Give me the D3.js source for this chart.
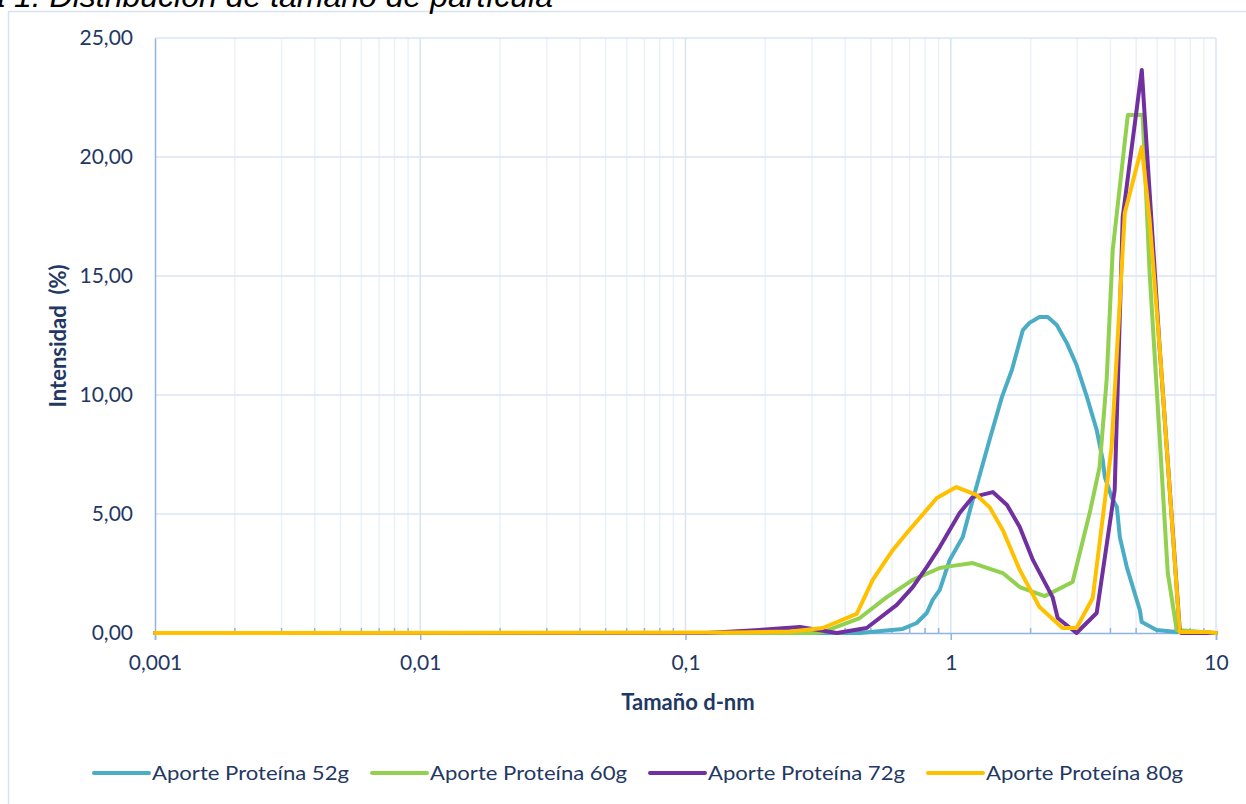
<!DOCTYPE html>
<html>
<head>
<meta charset="utf-8">
<script src="https://cdn.jsdelivr.net/npm/d3@7/dist/d3.min.js"></script>
<style>
  html, body { margin: 0; padding: 0; background: #ffffff; }
  svg { display: block; }
</style>
</head>
<body>
<svg id="chart" width="1246" height="804"></svg>
<script>
// ---------- DATA ----------
const titleText = "Figura 1. Distribución de tamaño de partícula";
const xAxisTitle = "Tamaño d-nm";
const yAxisTitle = "Intensidad\u00A0 (%)";
const xTickValues = [0.001, 0.01, 0.1, 1, 10];
const xTickLabels = ["0,001", "0,01", "0,1", "1", "10"];
const yTickValues = [0, 5, 10, 15, 20, 25];
const yTickLabels = ["0,00", "5,00", "10,00", "15,00", "20,00", "25,00"];
const seriesNames = ["Aporte Proteína 52g", "Aporte Proteína 60g", "Aporte Proteína 72g", "Aporte Proteína 80g"];
const seriesColors = ["#4BACC6", "#92D050", "#7030A0", "#FFC000"];

const size52 = [0.001, 0.454, 0.659, 0.744, 0.812, 0.855, 0.909, 0.991, 1.11, 1.21, 1.40, 1.56, 1.70, 1.87, 1.98, 2.16, 2.32, 2.51, 2.74, 2.98, 3.26, 3.55, 3.74, 3.81, 4.04, 4.23, 4.34, 4.61, 5.16, 5.25, 5.97, 7.11, 10];
const int52  = [0, 0, 0.17, 0.42, 0.84, 1.39, 1.81, 3.07, 4.03, 5.59, 8.11, 9.92, 11.05, 12.73, 13.03, 13.28, 13.28, 12.94, 12.18, 11.26, 9.92, 8.53, 7.27, 6.55, 5.71, 5.29, 4.03, 2.77, 0.97, 0.46, 0.13, 0.04, 0];

const size60 = [0.001, 0.30, 0.329, 0.454, 0.574, 0.719, 0.909, 1.017, 1.21, 1.57, 1.82, 2.26, 2.88, 3.34, 3.64, 3.87, 4.08, 4.65, 5.29, 5.62, 6.14, 6.58, 7.11, 10];
const int60  = [0, 0, 0.04, 0.63, 1.51, 2.23, 2.73, 2.82, 2.94, 2.52, 1.93, 1.55, 2.14, 5.04, 6.97, 10.63, 16.09, 21.76, 21.76, 15.13, 8.11, 2.52, 0.13, 0];

const size72 = [0.001, 0.12, 0.19, 0.27, 0.372, 0.482, 0.626, 0.719, 0.812, 0.909, 1.08, 1.21, 1.44, 1.63, 1.82, 2.04, 2.42, 2.53, 2.98, 3.55, 4.15, 4.45, 5.25, 5.48, 6.14, 7.30, 7.40, 10];
const int72  = [0, 0, 0.13, 0.25, 0, 0.21, 1.18, 1.93, 2.77, 3.61, 5.04, 5.71, 5.92, 5.38, 4.45, 3.07, 1.51, 0.63, 0, 0.84, 6.01, 17.48, 23.66, 20.42, 11.89, 0.13, 0, 0];

const size80 = [0.001, 0.15, 0.25, 0.329, 0.442, 0.508, 0.605, 0.683, 0.886, 1.05, 1.25, 1.40, 1.57, 1.82, 2.16, 2.64, 2.98, 3.43, 4.04, 4.53, 5.25, 5.62, 6.14, 7.30, 9.22, 10];
const int80  = [0, 0.02, 0.06, 0.21, 0.80, 2.23, 3.49, 4.20, 5.67, 6.13, 5.80, 5.29, 4.33, 2.65, 1.09, 0.21, 0.21, 1.47, 7.82, 17.65, 20.42, 17.35, 11.89, 0.04, 0.04, 0];

const seriesSizes = [size52, size60, size72, size80];
const seriesValues = [int52, int60, int72, int80];

// ---------- LAYOUT ----------
const svg = d3.select("#chart");
const textColor = "#1F3864";
const fontFamily = "Lato, 'Open Sans', 'Liberation Sans', sans-serif";
const plot = { left: 155, right: 1216, top: 38, bottom: 633 };

const x = d3.scaleLog().domain([0.001, 10]).range([plot.left, plot.right]);
const y = d3.scaleLinear().domain([0, 25]).range([plot.bottom, plot.top]);

// Outer chart frame
svg.append("rect")
  .attr("x", 8.5).attr("y", 11.5)
  .attr("width", 1250).attr("height", 820)
  .attr("fill", "#ffffff")
  .attr("stroke", "#D6E2F2").attr("stroke-width", 1.5);

// Title (partially clipped at top, as in the reference)
svg.append("text")
  .attr("x", 553).attr("y", 7)
  .attr("text-anchor", "end")
  .attr("font-family", "'Liberation Sans', Arial, sans-serif")
  .attr("font-style", "italic")
  .attr("font-size", 32)
  .attr("fill", "#000000")
  .text(titleText);

// Minor vertical gridlines
const minorVals = [];
for (let e = -3; e < 1; e++) {
  for (let m = 2; m <= 9; m++) minorVals.push(m * Math.pow(10, e));
}
svg.append("g").selectAll("line").data(minorVals).join("line")
  .attr("x1", d => x(d)).attr("x2", d => x(d))
  .attr("y1", plot.top).attr("y2", plot.bottom)
  .attr("stroke", "#EBF1F9").attr("stroke-width", 1.5);

// Major vertical gridlines
svg.append("g").selectAll("line").data(xTickValues.slice(1)).join("line")
  .attr("x1", d => x(d)).attr("x2", d => x(d))
  .attr("y1", plot.top).attr("y2", plot.bottom)
  .attr("stroke", "#D9E4F3").attr("stroke-width", 1.5);

// Major horizontal gridlines
svg.append("g").selectAll("line").data(yTickValues.slice(1)).join("line")
  .attr("x1", plot.left).attr("x2", plot.right)
  .attr("y1", d => y(d)).attr("y2", d => y(d))
  .attr("stroke", "#D9E4F3").attr("stroke-width", 1.5);

// Y axis
const yAxis = d3.axisLeft(y).tickValues(yTickValues)
  .tickFormat((d, i) => yTickLabels[i]).tickSize(0).tickPadding(22);
const gy = svg.append("g").attr("transform", `translate(${plot.left},0)`).call(yAxis);
gy.select(".domain").attr("stroke", "#8EB4E3").attr("stroke-width", 1.5);
gy.selectAll("text").attr("font-family", fontFamily).attr("font-size", 21).attr("fill", textColor);

// X axis minor ticks (inside)
svg.append("g").selectAll("line").data(minorVals).join("line")
  .attr("x1", d => x(d)).attr("x2", d => x(d))
  .attr("y1", plot.bottom - 5).attr("y2", plot.bottom)
  .attr("stroke", "#8EB4E3").attr("stroke-width", 1.5);

const xAxis = d3.axisBottom(x).tickValues(xTickValues)
  .tickFormat((d, i) => xTickLabels[i]).tickSize(7).tickPadding(15);
const gx = svg.append("g").attr("transform", `translate(0,${plot.bottom})`).call(xAxis);
gx.select(".domain").attr("stroke", "#8EB4E3").attr("stroke-width", 1.5);
gx.selectAll(".tick line").attr("stroke", "#8EB4E3").attr("stroke-width", 1.5);
gx.selectAll("text").attr("font-family", fontFamily).attr("font-size", 21).attr("fill", textColor);

// Axis titles
svg.append("text")
  .attr("transform", `translate(66,336) rotate(-90)`)
  .attr("text-anchor", "middle")
  .attr("font-family", fontFamily).attr("font-weight", "bold")
  .attr("font-size", 22).attr("fill", textColor)
  .text(yAxisTitle);

svg.append("text")
  .attr("x", 688).attr("y", 710)
  .attr("text-anchor", "middle")
  .attr("font-family", fontFamily).attr("font-weight", "bold")
  .attr("font-size", 22).attr("fill", textColor)
  .text(xAxisTitle);

// Series lines
const line = d3.line().x(d => x(d[0])).y(d => y(d[1]));
seriesNames.forEach((name, i) => {
  const pts = seriesSizes[i].map((s, j) => [s, seriesValues[i][j]]);
  svg.append("path")
    .datum(pts)
    .attr("d", line)
    .attr("fill", "none")
    .attr("stroke", seriesColors[i])
    .attr("stroke-width", 4)
    .attr("stroke-linejoin", "round")
    .attr("stroke-linecap", "round");
});

// Legend
const legendX = [94, 372, 650, 928];
const legend = svg.append("g");
seriesNames.forEach((name, i) => {
  legend.append("line")
    .attr("x1", legendX[i]).attr("x2", legendX[i] + 55)
    .attr("y1", 773).attr("y2", 773)
    .attr("stroke", seriesColors[i]).attr("stroke-width", 4)
    .attr("stroke-linecap", "round");
  legend.append("text")
    .attr("x", legendX[i] + 58).attr("y", 780)
    .attr("font-family", fontFamily).attr("font-size", 20)
    .attr("textLength", 197).attr("lengthAdjust", "spacingAndGlyphs")
    .attr("fill", textColor)
    .text(name);
});
</script>
</body>
</html>
